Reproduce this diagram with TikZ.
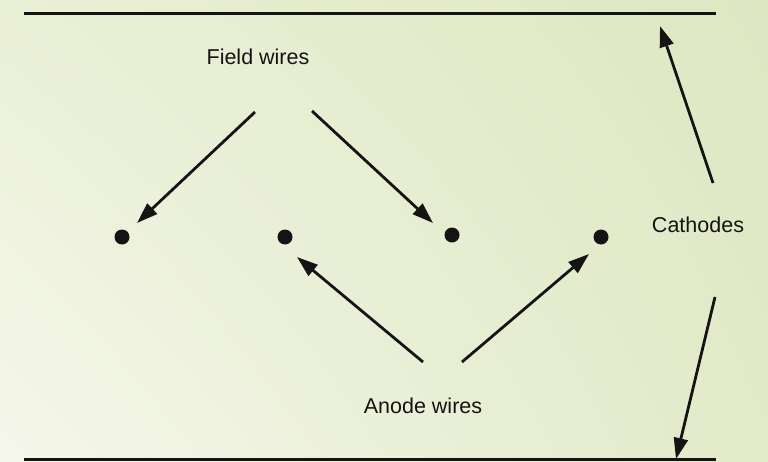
\documentclass[tikz,border=0pt]{standalone}
\usepackage{fontspec}
\setmainfont{Liberation Sans}
\usetikzlibrary{arrows.meta,shadings}
\definecolor{bgTL}{RGB}{234,240,214}
\definecolor{bgTR}{RGB}{221,231,194}
\definecolor{bgBL}{RGB}{245,247,235}
\definecolor{bgBR}{RGB}{226,234,201}
\definecolor{ink}{RGB}{20,20,20}
\tikzset{
  wire/.style={circle,fill=ink,inner sep=0pt,minimum size=15pt},
  lbl/.style={font=\fontsize{21.5}{25}\selectfont,text=ink},
  pointer/.style={draw=ink,line width=2.8pt,-{Triangle[length=21pt,width=14pt]}},
  plate/.style={draw=ink,line width=3pt}
}
\begin{document}
\begin{tikzpicture}[x=1pt,y=-1pt]
\useasboundingbox (0,0) rectangle (768,461);
\shade[upper left=bgTL,upper right=bgTR,lower left=bgBL,lower right=bgBR] (0,0) rectangle (768,461);
% plates
\coordinate (tl) at (24,13);
\coordinate (tr) at (716,13);
\coordinate (bl) at (24,459.5);
\coordinate (br) at (716,459.5);
\draw[plate] (tl) -- (tr);
\draw[plate] (bl) -- (br);
% wires
\node[wire] (w1) at (122,237) {};
\node[wire] (w2) at (285,237) {};
\node[wire] (w3) at (452,235) {};
\node[wire] (w4) at (601,237) {};
% labels
\node[lbl] (field) at (258,57) {Field wires};
\node[lbl] (anode) at (423,406) {Anode wires};
\node[lbl] (cath) at (698,225) {Cathodes};
% arrow tails
\coordinate (f1) at (255,112);
\coordinate (f2) at (312,111);
\coordinate (a1) at (423,362);
\coordinate (a2) at (462,362);
\coordinate (c1) at (713,183);
\coordinate (c2) at (715,297);
% arrow tips
\coordinate (t1) at (137,223);
\coordinate (t2) at (433,223);
\coordinate (t3) at (297,257);
\coordinate (t4) at (589,254);
\coordinate (t5) at (660,26);
\coordinate (t6) at (676,459);
\draw[pointer] (f1) -- (t1);
\draw[pointer] (f2) -- (t2);
\draw[pointer] (a1) -- (t3);
\draw[pointer] (a2) -- (t4);
\draw[pointer] (c1) -- (t5);
\draw[pointer] (c2) -- (t6);
\end{tikzpicture}
\end{document}
